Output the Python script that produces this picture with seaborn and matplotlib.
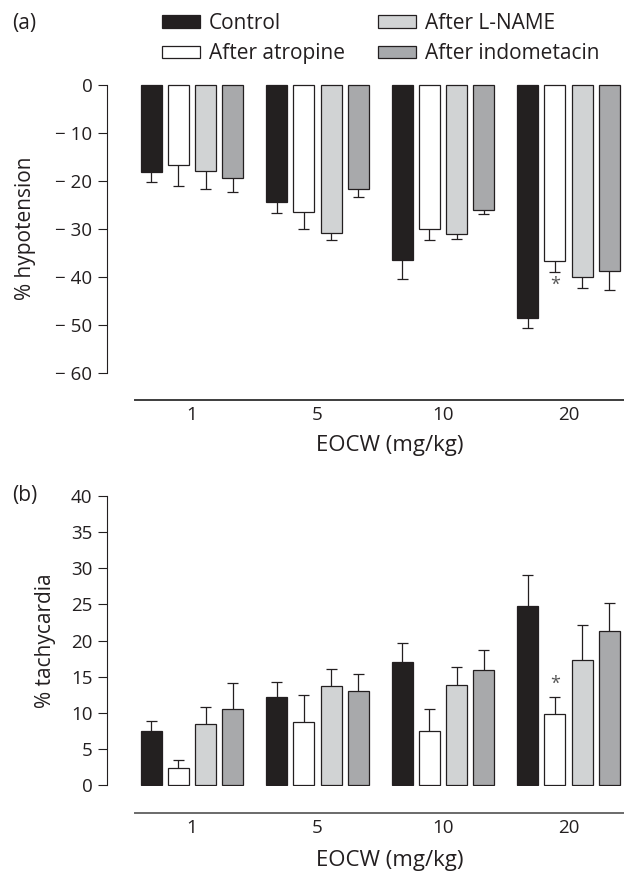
import pandas as pd
import seaborn as sns
import matplotlib.pyplot as plt
from matplotlib.patches import Patch

# 데이터
doses = ['1', '5', '10', '20']
groups = ['Control', 'After atropine', 'After L-NAME', 'After indometacin']

hypo_control = [-18.1, -24.3, -36.5, -48.6]
hypo_atropine = [-16.6, -26.4, -30.0, -36.6]
hypo_lname = [-17.9, -30.8, -31.1, -39.9]
hypo_indo = [-19.3, -21.6, -26.1, -38.7]
hypo_sem_control = [2.2, 2.3, 3.9, 2.1]
hypo_sem_atropine = [4.4, 3.7, 2.3, 2.4]
hypo_sem_lname = [3.7, 1.5, 1.0, 2.4]
hypo_sem_indo = [2.9, 1.8, 0.7, 4.1]

tachy_control = [7.5, 12.2, 17.0, 24.8]
tachy_atropine = [2.35, 8.7, 7.45, 9.8]
tachy_lname = [8.4, 13.7, 13.8, 17.3]
tachy_indo = [10.5, 12.95, 15.95, 21.3]
tachy_sem_control = [1.4, 2.1, 2.6, 4.2]
tachy_sem_atropine = [1.05, 3.7, 3.05, 2.4]
tachy_sem_lname = [2.4, 2.3, 2.6, 4.9]
tachy_sem_indo = [3.6, 2.35, 2.75, 3.9]

hypo_ticks = [0, -10, -20, -30, -40, -50, -60]
hypo_ticklabels = ['0', '\u2212 10', '\u2212 20', '\u2212 30', '\u2212 40', '\u2212 50', '\u2212 60']
tachy_ticks = [0, 5, 10, 15, 20, 25, 30, 35, 40]

colors = {'Control': '#231f20', 'After atropine': '#ffffff',
          'After L-NAME': '#d1d3d4', 'After indometacin': '#a7a9ac'}
EDGE = '#231f20'
TXT = '#231f20'

sns.set_style('ticks')
plt.rcParams['font.family'] = ['Open Sans', 'DejaVu Sans']

W, H = 624, 872
FS_TICK, FS_LEG, FS_XLAB, FS_YLAB = 13.5, 15, 16, 15


def make_df(vals, sems):
    rows = []
    for g, v, s in zip(groups, vals, sems):
        for d, vv, ss in zip(doses, v, s):
            rows.append({'dose': d, 'group': g, 'value': vv, 'sem': ss})
    return pd.DataFrame(rows)


df_a = make_df([hypo_control, hypo_atropine, hypo_lname, hypo_indo],
               [hypo_sem_control, hypo_sem_atropine, hypo_sem_lname, hypo_sem_indo])
df_b = make_df([tachy_control, tachy_atropine, tachy_lname, tachy_indo],
               [tachy_sem_control, tachy_sem_atropine, tachy_sem_lname, tachy_sem_indo])

fig = plt.figure(figsize=(W / 100, H / 100), dpi=100)

# 픽셀 기준 축 위치
x_left, x_right = 107, 624
cat0, pitch = 192, 125.5
xlim = ((x_left - cat0) / pitch, (x_right - cat0) / pitch)
line_start = (135 - cat0) / pitch


def draw_panel(df, top_px, bottom_px, ylim, ticks, ticklabels, ylabel, ylabel_x,
               star_y, line_px, line_color, xlabel_px):
    ax = fig.add_axes([x_left / W, 1 - bottom_px / H,
                       (x_right - x_left) / W, (bottom_px - top_px) / H])
    sns.barplot(data=df, x='dose', y='value', hue='group', order=doses,
                hue_order=groups, palette=colors, width=0.87, gap=0.23,
                edgecolor=EDGE, linewidth=0.9, errorbar=None, legend=False, ax=ax)
    # 오차 막대 (한쪽 방향)
    cap = 5.5 / pitch
    for cont, g in zip(ax.containers, groups):
        sub = df[df['group'] == g]
        for bar, (_, r) in zip(cont.patches, sub.iterrows()):
            xc = bar.get_x() + bar.get_width() / 2
            end = r['value'] + (r['sem'] if r['value'] > 0 else -r['sem'])
            ax.vlines(xc, r['value'], end, color=EDGE, lw=0.9, zorder=3)
            ax.hlines(end, xc - cap, xc + cap, color=EDGE, lw=0.9, zorder=3)
    # 유의성 표시
    atro = ax.containers[1].patches[3]
    ax.text(atro.get_x() + atro.get_width() / 2, star_y, '*', ha='center',
            va='center', fontsize=13, color='#555555')

    ax.set_xlim(*xlim)
    ax.set_ylim(*ylim)
    ax.set_yticks(ticks)
    ax.set_yticklabels(ticklabels)
    ax.spines['left'].set_bounds(min(ticks), max(ticks))
    ax.spines['right'].set_visible(False)
    ax.spines['top'].set_visible(False)
    ax.spines['bottom'].set_bounds(line_start, xlim[1])
    ax.spines['bottom'].set_position(('outward', (line_px - bottom_px) * 0.72))
    ax.spines['bottom'].set_color(line_color)
    ax.spines['bottom'].set_linewidth(1.4)
    ax.spines['left'].set_linewidth(0.8)
    ax.spines['left'].set_color(EDGE)
    ax.tick_params(axis='x', length=0, pad=4, labelsize=FS_TICK, colors=TXT)
    ax.tick_params(axis='y', length=6.5, width=0.8, pad=4, labelsize=FS_TICK, colors=TXT)
    ax.set_xlabel('EOCW (mg/kg)', fontsize=FS_XLAB, color=TXT)
    ax.xaxis.set_label_coords((390 - x_left) / (x_right - x_left),
                              -(xlabel_px - bottom_px) / (bottom_px - top_px))
    ax.xaxis.label.set_va('center')
    ax.set_ylabel(ylabel, fontsize=FS_YLAB, color=TXT)
    ax.yaxis.set_label_coords((ylabel_x - x_left) / (x_right - x_left), 0.5)
    ax.yaxis.label.set_va('center')
    return ax


ax_a = draw_panel(df_a, 85 - 0.25 * 4.8, 373, (-60, 0.25), hypo_ticks, hypo_ticklabels,
                  '% hypotension', 25, -41.7, 400, '#3d3d3d', 445)
ax_b = draw_panel(df_b, 496, 785 + 0.1 * 7.225, (-0.1, 40), tachy_ticks,
                  [str(t) for t in tachy_ticks], '% tachycardia', 46, 14.0, 813,
                  '#6a6a6a', 860)

fig.text(24 / W, 1 - 23 / H, '(a)', ha='center', va='center', fontsize=15, color=TXT)
fig.text(25 / W, 1 - 495 / H, '(b)', ha='center', va='center', fontsize=15, color=TXT)

handles = [Patch(facecolor=colors[g], edgecolor=EDGE, linewidth=0.9, label=g) for g in groups]
leg = fig.legend(handles=handles, ncol=2, loc='upper left', frameon=False,
                 bbox_to_anchor=(162 / W, 1 - 13 / H), borderpad=0, borderaxespad=0,
                 handlelength=1.82, handleheight=0.58, handletextpad=0.43,
                 columnspacing=1.58, labelspacing=0.45, fontsize=FS_LEG)
for t in leg.get_texts():
    t.set_color(TXT)

fig.savefig('out.png', dpi=100)
